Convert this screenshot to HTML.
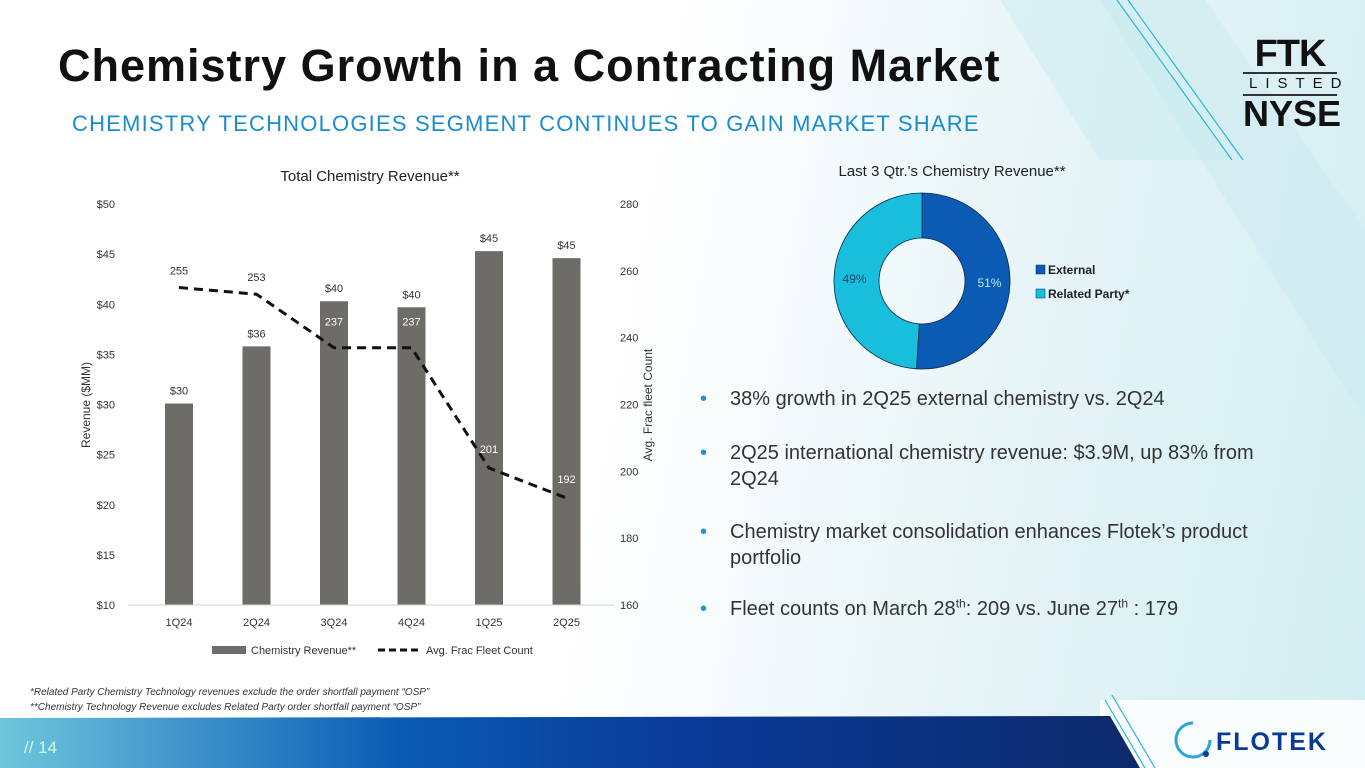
<!DOCTYPE html>
<html><head><meta charset="utf-8"><style>
body{margin:0;width:1365px;height:768px;overflow:hidden;position:relative;font-family:"Liberation Sans",sans-serif;background:linear-gradient(100deg,#ffffff 0%,#ffffff 45%,#e4f3f6 75%,#d2eef2 100%);}
.abs{position:absolute}
</style></head><body>
<svg class="abs" style="left:0;top:0" width="1365" height="768">
<polygon points="1100,0 1205,0 1365,230 1365,420" fill="#cdebf0" opacity="0.6"/>
<polygon points="1000,0 1115,0 1230,160 1100,160" fill="#c8ebf0" opacity="0.5"/>
<line x1="1117" y1="0" x2="1232" y2="160" stroke="#29b6d8" stroke-width="1.2"/>
<line x1="1128" y1="0" x2="1243" y2="160" stroke="#29b6d8" stroke-width="1.2"/>
<defs><linearGradient id="bar" x1="0" x2="1" y1="0" y2="0"><stop offset="0" stop-color="#6ec6dc"/><stop offset="0.35" stop-color="#0a5bb4"/><stop offset="0.6" stop-color="#0a3a98"/><stop offset="1" stop-color="#0c2a6a"/></linearGradient></defs>
<rect x="1100" y="700" width="265" height="68" fill="#ffffff" opacity="0.85"/>
<polygon points="0,718 1110,716 1140,768 0,768" fill="url(#bar)"/>
<line x1="1105" y1="700" x2="1145" y2="768" stroke="#29b6d8" stroke-width="1.2"/>
<line x1="1112" y1="695" x2="1155" y2="768" stroke="#29b6d8" stroke-width="1.2"/>
<circle cx="1193" cy="740" r="17" fill="none" stroke="#2aa6d8" stroke-width="3" stroke-dasharray="80 30"/>
<circle cx="1206" cy="754" r="3" fill="#0a3a98"/>
</svg>
<div class="abs" style="left:58px;top:40px;font-size:45px;font-weight:bold;color:#111;letter-spacing:1px">Chemistry Growth in a Contracting Market</div>
<div class="abs" style="left:72px;top:111px;font-size:22px;color:#1a8ccc;letter-spacing:1.2px">CHEMISTRY TECHNOLOGIES SEGMENT CONTINUES TO GAIN MARKET SHARE</div>
<div class="abs" style="left:1243px;top:36px;width:94px;text-align:center;color:#111;">
<div style="font-size:38px;font-weight:bold;line-height:36px;letter-spacing:-1px">FTK</div>
<div style="border-top:2px solid #333;border-bottom:2px solid #333;font-size:15px;letter-spacing:8px;line-height:20px;padding-left:6px">LISTED</div>
<div style="font-size:36px;font-weight:bold;line-height:36px">NYSE</div></div>
<div class="abs" style="left:30px;top:687px;font-size:10px;font-style:italic;color:#333">*Related Party Chemistry Technology revenues exclude the order shortfall payment “OSP”</div>
<div class="abs" style="left:30px;top:702px;font-size:10px;font-style:italic;color:#333">**Chemistry Technology Revenue excludes Related Party order shortfall payment “OSP”</div>
<div class="abs" style="left:24px;top:738px;font-size:17px;color:#cfe">// 14</div>
<div class="abs" style="left:1216px;top:728px;font-size:25px;font-weight:bold;color:#0a3a98;letter-spacing:2px">FLOTEK</div>

<svg class="abs" id="chart" style="left:0;top:0" width="700" height="680"></svg>
<svg class="abs" id="donut" style="left:800px;top:0" width="400" height="380"></svg>

<div class="abs" style="left:700px;top:386px;font-size:20px;color:#333;line-height:26px;width:555px">
<div style="position:relative;padding-left:30px;margin-bottom:28px"><span style="position:absolute;left:0;color:#1f93d0">•</span>38% growth in 2Q25 external chemistry vs. 2Q24</div>
<div style="position:relative;padding-left:30px;margin-bottom:27px"><span style="position:absolute;left:0;color:#1f93d0">•</span>2Q25 international chemistry revenue: $3.9M, up 83% from 2Q24</div>
<div style="position:relative;padding-left:30px;margin-bottom:25px"><span style="position:absolute;left:0;color:#1f93d0">•</span>Chemistry market consolidation enhances Flotek’s product portfolio</div>
<div style="position:relative;padding-left:30px"><span style="position:absolute;left:0;color:#1f93d0">•</span>Fleet counts on March 28<sup style="font-size:12px;line-height:0">th</sup>: 209 vs. June 27<sup style="font-size:12px;line-height:0">th</sup> : 179</div>
</div>

<script>
const categories=["1Q24","2Q24","3Q24","4Q24","1Q25","2Q25"];
const revenue=[30.1,35.8,40.3,39.7,45.3,44.6];
const revenueLabels=["$30","$36","$40","$40","$45","$45"];
const fleet=[255,253,237,237,201,192];
const leftTicks=[10,15,20,25,30,35,40,45,50];
const rightTicks=[160,180,200,220,240,260,280];
const donutLabels=["External","Related Party*"];
const donutValues=[51,49];

const NS="http://www.w3.org/2000/svg";
function mk(p,t,a,txt){const e=document.createElementNS(NS,t);for(const k in a)e.setAttribute(k,a[k]);if(txt!==undefined)e.textContent=txt;p.appendChild(e);return e;}
const svg=document.getElementById('chart');
const y0=605,y1=204;
const yL=v=>y0-(v-10)/40*(y0-y1);
const yR=v=>y0-(v-160)/120*(y0-y1);
const xC=i=>179+i*77.5;
const F='"Liberation Sans",sans-serif';
let t=mk(svg,'text',{x:370,y:181,'text-anchor':'middle','font-size':15,fill:'#222','font-family':F},'Total Chemistry Revenue**');


leftTicks.forEach(v=>{const e=mk(svg,'text',{x:115,y:yL(v)+4,'text-anchor':'end','font-size':11,fill:'#333','font-family':F},'$'+v);

});
rightTicks.forEach(v=>{const e=mk(svg,'text',{x:620,y:yR(v)+4,'font-size':11,fill:'#333','font-family':F},v);

});
let a=mk(svg,'text',{transform:'translate(90,405) rotate(-90)','text-anchor':'middle','font-size':12,fill:'#333','font-family':F},'Revenue ($MM)');


a=mk(svg,'text',{transform:'translate(652,405) rotate(-90)','text-anchor':'middle','font-size':12,fill:'#333','font-family':F},'Avg. Frac fleet Count');


categories.forEach((c,i)=>{
 const b=mk(svg,'rect',{x:xC(i)-14,y:yL(revenue[i]),width:28,height:y0-yL(revenue[i]),fill:'#6e6c68'});
 
 
 const l=mk(svg,'text',{x:xC(i),y:yL(revenue[i])-9,'text-anchor':'middle','font-size':11,fill:'#333','font-family':F},revenueLabels[i]);
 
 
 const x=mk(svg,'text',{x:xC(i),y:626,'text-anchor':'middle','font-size':11,fill:'#333','font-family':F},c);
 
 
});
const ax=mk(svg,'line',{x1:128,y1:y0,x2:615,y2:y0,stroke:'#d0d0d0'});


const pts=fleet.map((v,i)=>xC(i)+','+yR(v)).join(' ');
const pl=mk(svg,'polyline',{points:pts,fill:'none',stroke:'#111','stroke-width':3,'stroke-dasharray':'9 6'});


fleet.forEach((v,i)=>{
 const inside=i>=2;
 const yy=i<2?yR(v)-13:(i<4?yR(v)-22:yR(v)-15);
 const e=mk(svg,'text',{x:xC(i),y:yy,'text-anchor':'middle','font-size':11,fill:inside?'#fff':'#333','font-family':F},v);
 
 
});
let lg=mk(svg,'rect',{x:212,y:646,width:34,height:8,fill:'#6e6c68'});


lg=mk(svg,'text',{x:251,y:654,'font-size':11,fill:'#333','font-family':F},'Chemistry Revenue**');


lg=mk(svg,'line',{x1:378,y1:650,x2:418,y2:650,stroke:'#111','stroke-width':3,'stroke-dasharray':'7 4'});


lg=mk(svg,'text',{x:426,y:654,'font-size':11,fill:'#333','font-family':F},'Avg. Frac Fleet Count');



// donut
const d=document.getElementById('donut');
const cx=122,cy=281,R=88,r=43,cols=['#0b5bb5','#18bedc'];
let tt=mk(d,'text',{x:152,y:176,'text-anchor':'middle','font-size':15,fill:'#222','font-family':F},"Last 3 Qtr.'s Chemistry Revenue**");


const tot=donutValues.reduce((s,v)=>s+v,0);let acc=0;
donutValues.forEach((v,i)=>{
 const a0=acc/tot*2*Math.PI-Math.PI/2;acc+=v;const a1=acc/tot*2*Math.PI-Math.PI/2;
 const lf=(a1-a0)>Math.PI?1:0;
 const p=`M${cx+R*Math.cos(a0)},${cy+R*Math.sin(a0)} A${R},${R} 0 ${lf} 1 ${cx+R*Math.cos(a1)},${cy+R*Math.sin(a1)} L${cx+r*Math.cos(a1)},${cy+r*Math.sin(a1)} A${r},${r} 0 ${lf} 0 ${cx+r*Math.cos(a0)},${cy+r*Math.sin(a0)} Z`;
 const s=mk(d,'path',{d:p,fill:cols[i],stroke:'#0a2a4a','stroke-width':0.8});
 
 
 const am=(a0+a1)/2,rm=(R+r)/2+2;
 const l=mk(d,'text',{x:cx+rm*Math.cos(am),y:cy+rm*Math.sin(am)+4,'text-anchor':'middle','font-size':12,fill:i==0?'#bfe6ff':'#1a4a6a','font-family':F},v+'%');
 
 
 const sw=mk(d,'rect',{x:236,y:265+i*24,width:9,height:9,fill:cols[i],stroke:'#0a2a4a','stroke-width':0.5});
 
 
 const lt=mk(d,'text',{x:248,y:274+i*24,'font-size':12,'font-weight':'bold',fill:'#222','font-family':F},donutLabels[i]);
 
 
});
</script>
</body></html>
